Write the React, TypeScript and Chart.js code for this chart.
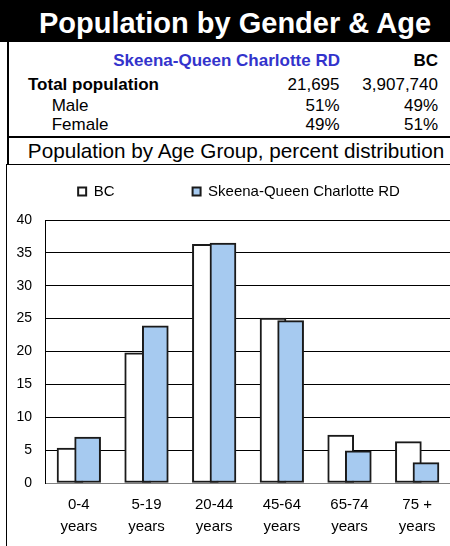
import React, { useEffect, useRef } from "react";
import { Chart, registerables } from "chart.js";

Chart.register(...registerables);

const FONT = "'Liberation Sans', Arial, Helvetica, sans-serif";

// ---- Chart data ----
const ageGroupLabels: string[][] = [
  ["0-4", "years"],
  ["5-19", "years"],
  ["20-44", "years"],
  ["45-64", "years"],
  ["65-74", "years"],
  ["75 +", "years"],
];
const bcPercent = [5.3, 19.8, 36.3, 25.1, 7.3, 6.3];
const regionPercent = [7.0, 23.9, 36.5, 24.7, 4.9, 3.1];
const seriesNames = ["BC", "Skeena-Queen Charlotte RD"];
const yAxisMin = 0;
const yAxisMax = 40;
const yAxisStep = 5;

// ---- Table data ----
const headerTitle = "Population by Gender & Age";
const regionName = "Skeena-Queen Charlotte RD";
const provinceName = "BC";
const rowLabels = ["Total population", "Male", "Female"];
const regionColumn = ["21,695", "51%", "49%"];
const provinceColumn = ["3,907,740", "49%", "51%"];
const chartSubtitle = "Population by Age Group, percent distribution";

// ---- style constants ----
const BAR_SHIFT = 0.13; // overlap shift of the two series within a group (in category units)
const LEGEND_HEIGHT = 114.2;
const CANVAS_W = 493;
const CANVAS_H = 381;

const legendHeightPlugin = {
  id: "legendHeight",
  beforeInit(chart: any) {
    const legend = chart.legend;
    if (!legend) return;
    const origFit = legend.fit;
    legend.fit = function () {
      const mw = this.maxWidth;
      origFit.call(this);
      this.width = mw;
      this.height = LEGEND_HEIGHT;
    };
  },
};

function Txt(props: {
  text: string;
  x: number;
  baseline: number;
  size: number;
  bold?: boolean;
  color?: string;
  align?: "left" | "right" | "center";
  centerWidth?: number;
}) {
  const { text, x, baseline, size, bold, color, align = "left", centerWidth = 0 } = props;
  const style: React.CSSProperties = {
    position: "absolute",
    top: baseline - 0.8465 * size,
    fontSize: size,
    lineHeight: `${size}px`,
    fontWeight: bold ? "bold" : "normal",
    color: color || "#000",
    whiteSpace: "nowrap",
    fontFamily: FONT,
  };
  if (align === "left") style.left = x;
  else if (align === "right") style.right = 450 - x;
  else {
    style.left = x - centerWidth / 2;
    style.width = centerWidth;
    style.textAlign = "center";
  }
  return <div style={style}>{text}</div>;
}

export default function App() {
  const canvasRef = useRef<HTMLCanvasElement>(null);

  useEffect(() => {
    const canvas = canvasRef.current;
    if (!canvas) return;
    const chart = new Chart(canvas, {
      type: "bar",
      data: {
        datasets: [
          {
            label: seriesNames[0],
            data: bcPercent.map((v, i) => ({ x: i - BAR_SHIFT, y: v })),
            backgroundColor: "#ffffff",
            borderColor: "#1a1a1a",
            borderWidth: 2,
            borderSkipped: false,
            order: 1,
            xAxisID: "x",
            yAxisID: "y",
          },
          {
            label: seriesNames[1],
            data: regionPercent.map((v, i) => ({ x: i + BAR_SHIFT, y: v })),
            backgroundColor: "#a6caf0",
            borderColor: "#1a1a1a",
            borderWidth: 2,
            borderSkipped: false,
            order: 0,
            xAxisID: "x",
            yAxisID: "y",
          },
        ],
      } as any,
      options: {
        responsive: false,
        animation: false,
        events: [],
        grouped: false,
        barThickness: 26,
        layout: { padding: { top: -59.2, left: -15, right: 0, bottom: 0 } },
        font: { family: FONT },
        plugins: {
          tooltip: { enabled: false },
          legend: {
            position: "top",
            align: "center",
            labels: {
              boxWidth: 8,
              boxHeight: 8,
              padding: 78.1,
              color: "#000",
              font: { family: FONT, size: 15 },
              sort: (a: any, b: any) => a.datasetIndex - b.datasetIndex,
            },
          },
        },
        scales: {
          x: {
            type: "linear",
            offset: false,
            min: -0.5,
            max: ageGroupLabels.length - 0.5,
            afterBuildTicks: (s: any) => {
              s.ticks = ageGroupLabels.map((_, i) => ({ value: i }));
            },
            afterFit: (s: any) => {
              s.height = 63;
            },
            grid: { display: false, drawTicks: false, offset: false },
            border: { display: true, color: "#808080", width: 1 },
            ticks: {
              autoSkip: false,
              maxRotation: 0,
              minRotation: 0,
              padding: 11,
              color: "#000",
              font: { family: FONT, size: 15, lineHeight: 1.45 },
              callback: (v: any) => ageGroupLabels[v] ?? "",
            },
          },
          y: {
            position: "left",
            min: yAxisMin,
            max: yAxisMax,
            afterFit: (s: any) => {
              s.width = 60;
            },
            grid: {
              drawTicks: false,
              lineWidth: 1,
              color: (ctx: any) =>
                ctx.tick && ctx.tick.value === yAxisMin ? "#808080" : "#000000",
            },
            border: { display: true, color: "#000", width: 1 },
            ticks: {
              stepSize: yAxisStep,
              padding: 13,
              color: "#000",
              font: { family: FONT, size: 14 },
            },
          },
          y2: {
            position: "right",
            display: true,
            min: yAxisMin,
            max: yAxisMax,
            afterFit: (s: any) => {
              s.width = 42;
            },
            grid: { display: false, drawTicks: false },
            border: { display: false },
            ticks: { display: false },
          },
        },
      } as any,
      plugins: [legendHeightPlugin],
    });
    return () => chart.destroy();
  }, []);

  const rowBaselines = [90.7, 111.7, 130];
  const rowX = [28, 51.7, 51.7];

  return (
    <div
      style={{
        position: "absolute",
        left: 0,
        top: 0,
        width: 450,
        height: 546,
        overflow: "hidden",
        background: "#fff",
        fontFamily: FONT,
      }}
    >
      {/* header band */}
      <div style={{ position: "absolute", left: 0, top: 0, width: 480, height: 42, background: "#000" }} />
      <Txt text={headerTitle} x={235} baseline={33.5} size={29} bold color="#fff" align="center" centerWidth={470} />

      {/* table */}
      <Txt text={regionName} x={340} baseline={66.7} size={17} bold color="#3333cc" align="right" />
      <Txt text={provinceName} x={438} baseline={66.7} size={17} bold align="right" />
      {rowLabels.map((lab, i) => (
        <Txt key={"l" + i} text={lab} x={rowX[i]} baseline={rowBaselines[i]} size={17} bold={i === 0} />
      ))}
      {regionColumn.map((v, i) => (
        <Txt key={"r" + i} text={v} x={339.5} baseline={rowBaselines[i]} size={17} align="right" />
      ))}
      {provinceColumn.map((v, i) => (
        <Txt key={"p" + i} text={v} x={438} baseline={rowBaselines[i]} size={17} align="right" />
      ))}

      {/* subtitle */}
      <Txt text={chartSubtitle} x={236} baseline={158.3} size={20.7} align="center" centerWidth={470} />

      {/* chart */}
      <canvas
        ref={canvasRef}
        width={CANVAS_W}
        height={CANVAS_H}
        style={{ position: "absolute", left: 0, top: 165, width: CANVAS_W, height: CANVAS_H }}
      />

      {/* frame lines */}
      <div style={{ position: "absolute", left: 7, top: 42, width: 2, height: 122, background: "#000" }} />
      <div style={{ position: "absolute", left: 7, top: 136, width: 450, height: 2, background: "#000" }} />
      <div style={{ position: "absolute", left: 6, top: 164, width: 450, height: 1, background: "#000" }} />
      <div style={{ position: "absolute", left: 6, top: 165, width: 1, height: 381, background: "#000" }} />
    </div>
  );
}
